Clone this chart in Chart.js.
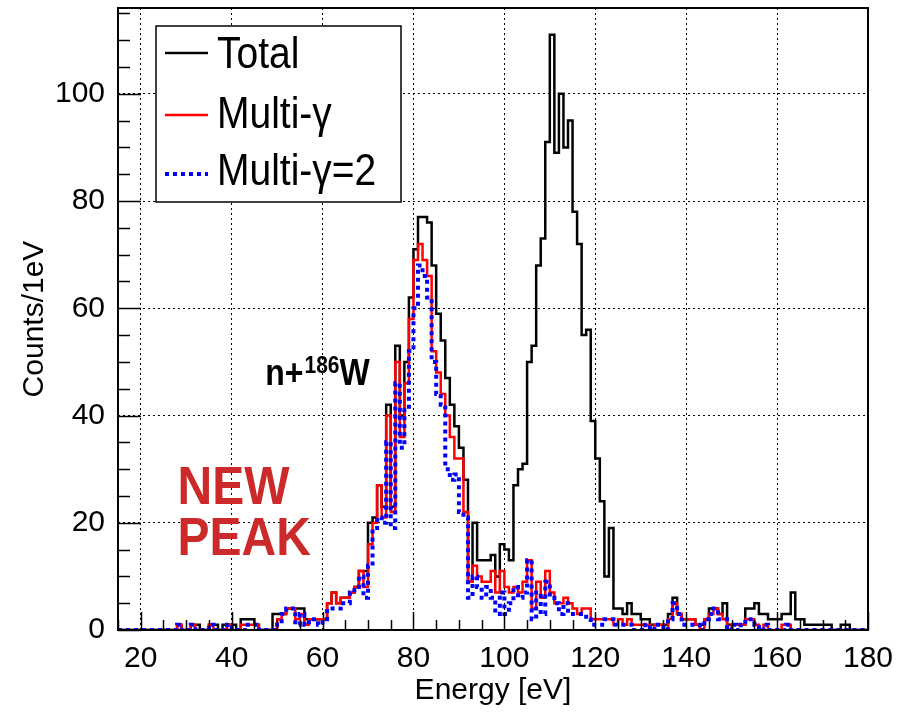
<!DOCTYPE html>
<html>
<head>
<meta charset="utf-8">
<title>n+186W energy spectrum</title>
<script src="https://cdn.jsdelivr.net/npm/chart.js"></script>
<style>
  body { margin: 0; background: #fff; }
  #wrap { width: 907px; height: 713px; }
</style>
</head>
<body>
<div id="wrap"><canvas id="spectrum"></canvas></div>

<script>
// 1 eV bins, first bin starts at 15 eV, last one ends at 180 eV
const binStart = 15;
const binEnd = 180;

// counts per bin, 10 bins per row (15-24, 25-34, ...)
const total = [
  0, 0, 0, 0, 0, 0, 0, 0, 0, 0,
  0, 0, 0, 1, 0, 0, 1, 1, 0, 0,
  1, 1, 0, 1, 1, 1, 0, 2, 2, 2,
  1, 0, 0, 0, 3, 3, 3, 4, 4, 4,
  4, 2, 2, 2, 2, 2, 5, 7, 5, 6,
  6, 7, 8, 11, 11, 20, 21, 27, 23, 42,
  23, 53, 40, 50, 62, 71, 77, 77, 76, 68,
  59, 54, 47, 42, 38, 34, 28, 9, 20, 13,
  13, 13, 14, 10, 16, 15, 13, 27, 30, 31,
  50, 53, 68, 73, 91, 111, 89, 100, 90, 95,
  78, 72, 55, 56, 39, 32, 24, 10, 19, 4,
  4, 3, 5, 3, 3, 2, 2, 1, 1, 1,
  1, 3, 6, 3, 2, 2, 2, 1, 1, 2,
  4, 4, 3, 5, 1, 1, 1, 1, 4, 4,
  5, 3, 3, 2, 2, 2, 3, 3, 7, 2,
  2, 1, 1, 1, 1, 1, 1, 0, 0, 1,
  1, 0, 0, 0, 0
];

const multiGamma = [
  0, 0, 0, 0, 0, 0, 0, 0, 0, 0,
  0, 0, 0, 1, 0, 0, 1, 0, 0, 0,
  1, 0, 0, 0, 1, 0, 0, 1, 1, 1,
  1, 0, 0, 0, 0, 2, 3, 4, 4, 2,
  3, 1, 2, 2, 2, 2, 5, 7, 5, 6,
  6, 7, 8, 11, 8, 16, 20, 27, 21, 40,
  22, 50, 36, 46, 58, 69, 72, 69, 66, 52,
  48, 44, 40, 36, 32, 32, 22, 9, 12, 10,
  9, 9, 11, 7, 11, 8, 7, 8, 7, 9,
  13, 4, 9, 6, 11, 7, 5, 5, 6, 5,
  4, 3, 4, 4, 2, 2, 2, 2, 2, 1,
  2, 1, 2, 1, 1, 1, 1, 0, 1, 1,
  0, 2, 5, 3, 2, 2, 2, 1, 0, 2,
  3, 4, 3, 2, 0, 1, 1, 1, 2, 2,
  1, 0, 1, 0, 0, 0, 1, 1, 0, 0,
  0, 0, 0, 0, 0, 0, 0, 0, 0, 0,
  0, 0, 0, 0, 0
];

const multiGamma2 = [
  0, 0, 0, 0, 0, 0, 0, 0, 0, 0,
  0, 0, 0, 1, 0, 0, 1, 0, 0, 0,
  1, 0, 0, 0, 1, 0, 0, 0, 1, 1,
  1, 0, 0, 0, 0, 1, 3, 4, 4, 1,
  3, 1, 2, 2, 1, 2, 4, 4, 4, 5,
  5, 7, 8, 10, 6, 12, 19, 21, 20, 35,
  19, 46, 34, 41, 52, 60, 68, 66, 62, 50,
  44, 42, 30, 28, 29, 22, 21, 6, 10, 8,
  6, 8, 6, 3, 7, 3, 5, 8, 6, 7,
  13, 2, 7, 3, 9, 6, 5, 3, 5, 3,
  3, 3, 3, 2, 1, 1, 1, 2, 2, 1,
  1, 1, 1, 0, 0, 0, 1, 0, 1, 1,
  0, 2, 5, 3, 1, 1, 1, 1, 0, 2,
  3, 4, 2, 2, 0, 1, 0, 1, 2, 2,
  1, 0, 1, 0, 0, 0, 0, 1, 0, 0,
  0, 0, 0, 0, 0, 0, 0, 0, 0, 0,
  0, 0, 0, 0, 0
];

const xTicks = [20, 40, 60, 80, 100, 120, 140, 160, 180];
const yTicks = [0, 20, 40, 60, 80, 100];
const yMax = 116;

const fontFamily = '"Liberation Sans", Arial, Helvetica, sans-serif';

// bin contents -> points of a stepped line; each value is held from its
// bin's low edge to the next edge (Chart.js 'before' stepping)
function toSteps(values) {
  const pts = values.map((v, i) => ({x: binStart + i, y: v}));
  pts.push({x: binEnd, y: values[values.length - 1]});
  return pts;
}

// text stretched a bit vertically like the ROOT output
function drawText(ctx, text, x, y, font, color) {
  ctx.save();
  ctx.translate(x, y);
  ctx.scale(1, 1.13);
  ctx.font = font;
  ctx.fillStyle = color;
  ctx.textBaseline = 'alphabetic';
  ctx.fillText(text, 0, 0);
  const w = ctx.measureText(text).width;
  ctx.restore();
  return w;
}

const legendItems = [
  {text: 'Total', color: '#000000', width: 2.5, dash: []},
  {text: 'Multi-\u03b3', color: '#ff0000', width: 2.5, dash: []},
  {text: 'Multi-\u03b3=2', color: '#0000ff', width: 4, dash: [4, 4]}
];

const decorations = {
  id: 'decorations',
  afterDatasetsDraw(chart) {
    const {ctx, chartArea: a, scales: {x, y}} = chart;
    ctx.save();

    // tick marks pointing inside the frame
    ctx.strokeStyle = '#000';
    ctx.lineWidth = 1.5;
    ctx.beginPath();
    for (let v = binStart; v <= binEnd; v += 5) {
      const px = Math.round(x.getPixelForValue(v)) + 0.5;
      const len = v % 20 === 0 ? 18 : 10;
      ctx.moveTo(px, a.bottom);
      ctx.lineTo(px, a.bottom - len);
    }
    for (let v = 0; v < yMax; v += 5) {
      const py = Math.round(y.getPixelForValue(v)) + 0.5;
      const len = v % 20 === 0 ? 23 : 12;
      ctx.moveTo(a.left, py);
      ctx.lineTo(a.left + len, py);
    }
    ctx.stroke();

    // frame
    ctx.lineWidth = 2;
    ctx.strokeRect(a.left, a.top, a.right - a.left, a.bottom - a.top);

    // legend box
    const lx = a.left + 38, ly = a.top + 18, lw = 245, lh = 176;
    ctx.fillStyle = '#fff';
    ctx.fillRect(lx, ly, lw, lh);
    ctx.lineWidth = 1.5;
    ctx.strokeStyle = '#000';
    ctx.strokeRect(lx, ly, lw, lh);
    const rows = [27, 89, 148];
    const baselines = [42, 102, 159];
    legendItems.forEach((item, i) => {
      ctx.save();
      ctx.strokeStyle = item.color;
      ctx.lineWidth = item.width;
      ctx.setLineDash(item.dash);
      ctx.beginPath();
      ctx.moveTo(lx + 9, ly + rows[i]);
      ctx.lineTo(lx + 52, ly + rows[i]);
      ctx.stroke();
      ctx.restore();
      drawText(ctx, item.text, lx + 61, ly + baselines[i], '39px ' + fontFamily, '#000');
    });

    // n+186W label
    let tx = x.getPixelForValue(47.4);
    const ty = y.getPixelForValue(45.6);
    tx += drawText(ctx, 'n+', tx, ty, 'bold 32px ' + fontFamily, '#000');
    tx += drawText(ctx, '186', tx + 1, ty - 12, 'bold 21px ' + fontFamily, '#000') + 1;
    drawText(ctx, 'W', tx, ty, 'bold 32px ' + fontFamily, '#000');

    // NEW PEAK
    const nx = x.getPixelForValue(28.1);
    drawText(ctx, 'NEW', nx, y.getPixelForValue(23.5), 'bold 48px ' + fontFamily, '#cc2a2a');
    drawText(ctx, 'PEAK', nx, y.getPixelForValue(14.0), 'bold 48px ' + fontFamily, '#cc2a2a');

    ctx.restore();
  }
};

new Chart(document.getElementById('spectrum'), {
  type: 'line',
  data: {
    datasets: [
      {
        label: 'Total',
        data: toSteps(total),
        borderColor: '#000000',
        borderWidth: 2.5,
        stepped: 'before',
        fill: false,
        order: 3
      },
      {
        label: 'Multi-\u03b3',
        data: toSteps(multiGamma),
        borderColor: '#ff0000',
        borderWidth: 2.5,
        stepped: 'before',
        fill: false,
        order: 2
      },
      {
        label: 'Multi-\u03b3=2',
        data: toSteps(multiGamma2),
        borderColor: '#0000ff',
        borderWidth: 4,
        borderDash: [4, 4],
        stepped: 'before',
        fill: false,
        order: 1
      }
    ]
  },
  options: {
    responsive: true,
    maintainAspectRatio: false,
    animation: false,
    layout: {padding: {top: 8, right: 39, bottom: 0, left: 0}},
    elements: {point: {radius: 0}},
    plugins: {
      legend: {display: false},
      tooltip: {enabled: false}
    },
    scales: {
      x: {
        type: 'linear',
        min: binStart,
        max: binEnd,
        afterBuildTicks: s => { s.ticks = xTicks.map(v => ({value: v})); },
        afterFit: s => { s.height = 83; s.paddingLeft = 0; s.paddingRight = 0; },
        grid: {color: '#000', lineWidth: 1, drawTicks: false},
        border: {display: false, dash: [2, 3]},
        ticks: {color: '#000', font: {family: fontFamily, size: 30}, padding: 11, maxRotation: 0, autoSkip: false},
        title: {display: true, text: 'Energy [eV]', color: '#000', font: {family: fontFamily, size: 30}, padding: {top: 0, bottom: 4}}
      },
      y: {
        min: 0,
        max: yMax,
        afterBuildTicks: s => { s.ticks = yTicks.map(v => ({value: v})); },
        afterFit: s => { s.width = 118; s.paddingTop = 0; s.paddingBottom = 0; },
        grid: {color: '#000', lineWidth: 1, drawTicks: false},
        border: {display: false, dash: [2, 3]},
        ticks: {color: '#000', font: {family: fontFamily, size: 30}, padding: 13},
        title: {display: true, text: 'Counts/1eV', color: '#000', font: {family: fontFamily, size: 30}, padding: {top: 17, bottom: 0}}
      }
    }
  },
  plugins: [decorations]
});
</script>
</body>
</html>
